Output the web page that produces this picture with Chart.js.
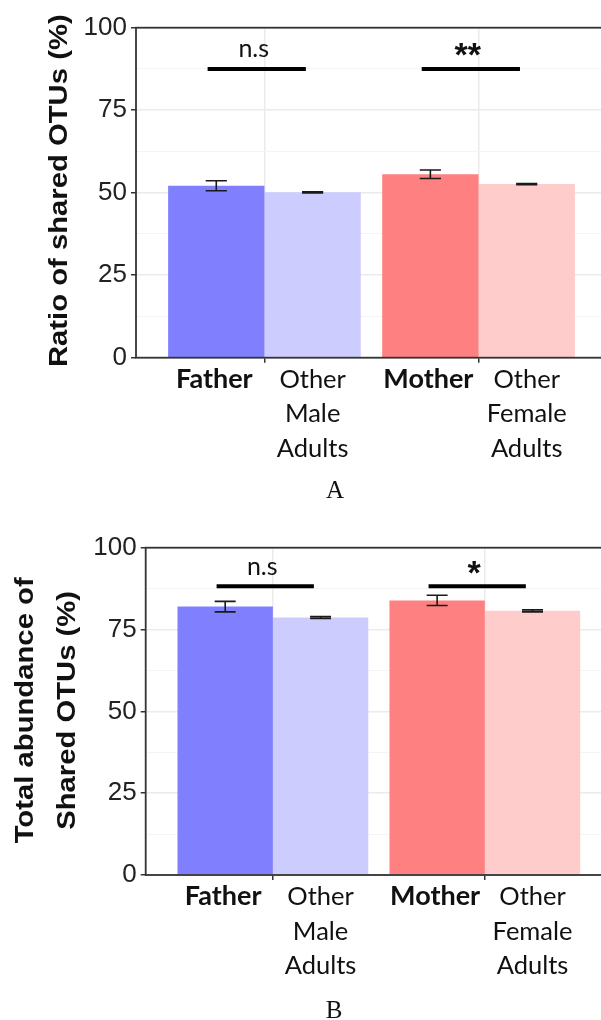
<!DOCTYPE html>
<html><head><meta charset="utf-8">
<script src="https://cdn.jsdelivr.net/npm/chart.js@4.4.0/dist/chart.umd.min.js"></script>
<style>
html,body{margin:0;padding:0;background:#fff;overflow:hidden;width:601px;height:1020px;position:relative;}
canvas{position:absolute;left:0;}
#cA{top:0;} #cB{top:510px;}
</style></head><body>
<canvas id="cA" width="607" height="510"></canvas>
<canvas id="cB" width="612" height="510"></canvas>
<script>
// ---- shared categories / labels ----
const groups = ['Father', 'Mother'];
const parentLabels = ['Father', 'Mother'];
const otherLabels = [['Other', 'Male', 'Adults'], ['Other', 'Female', 'Adults']];
const parentColors = ['#8080ff', '#ff8080'];
const otherColors = ['#ccccff', '#ffcccc'];
const yTickValues = [0, 25, 50, 75, 100];

// ---- Panel A: Ratio of shared OTUs (%) ----
const ratioParent = [52.1, 55.6];
const ratioParentErr = [1.5, 1.3];
const ratioOther = [50.1, 52.6];
const ratioOtherErr = [0.2, 0.15];
const ratioSigText = ['n.s', '**'];
const ratioSigLevel = [87.5, 87.5];

// ---- Panel B: Total abundance of shared OTUs (%) ----
const abundParent = [82.0, 83.9];
const abundParentErr = [1.6, 1.55];
const abundOther = [78.7, 80.7];
const abundOtherErr = [0.3, 0.3];
const abundSigText = ['n.s', '*'];
const abundSigLevel = [88.2, 88.2];

function annotPlugin(spec) {
  return {
    id: 'annot',
    afterDatasetsDraw(chart) {
      const ctx = chart.ctx, y = chart.scales.y, a = chart.chartArea;
      const m0 = chart.getDatasetMeta(0), m1 = chart.getDatasetMeta(1);
      ctx.save();
      // panel frame
      ctx.strokeStyle = '#333'; ctx.lineWidth = 1.8;
      ctx.strokeRect(a.left, a.top, a.right - a.left, a.bottom - a.top);
      // error bars
      [[m0, spec.parent, spec.parentErr], [m1, spec.other, spec.otherErr]].forEach(([meta, vals, errs]) => {
        meta.data.forEach((bar, i) => {
          const cx = bar.x, hw = bar.width * 0.11;
          const yHi = y.getPixelForValue(vals[i] + errs[i]);
          const yLo = y.getPixelForValue(vals[i] - errs[i]);
          ctx.strokeStyle = '#1a1a1a'; ctx.lineWidth = 1.6;
          ctx.beginPath();
          ctx.moveTo(cx - hw, yHi); ctx.lineTo(cx + hw, yHi);
          ctx.moveTo(cx, yHi); ctx.lineTo(cx, yLo);
          ctx.moveTo(cx - hw, yLo); ctx.lineTo(cx + hw, yLo);
          ctx.stroke();
        });
      });
      // significance brackets
      groups.forEach((g, i) => {
        const b0 = m0.data[i], b1 = m1.data[i];
        const x0 = b0.x - b0.width * 0.09, x1 = b1.x - b1.width * 0.07;
        const ly = y.getPixelForValue(spec.sigLevel[i]);
        ctx.strokeStyle = '#000'; ctx.lineWidth = 4;
        ctx.beginPath(); ctx.moveTo(x0, ly); ctx.lineTo(x1, ly); ctx.stroke();
        const t = spec.sigText[i];
        const cx = (x0 + x1) / 2 - 3;
        ctx.fillStyle = '#111'; ctx.textAlign = 'center';
        if (t.indexOf('*') >= 0) {
          ctx.font = 'bold 34px "Liberation Sans"';
          const m = ctx.measureText(t);
          const asc = m.actualBoundingBoxAscent, desc = m.actualBoundingBoxDescent;
          const c = ly - 19;
          ctx.textBaseline = 'alphabetic';
          ctx.fillText(t, cx, c + (asc - desc) / 2);
        } else {
          ctx.font = '25px Lato';
          ctx.textBaseline = 'alphabetic';
          ctx.fillText(t, cx, ly - 11.5);
        }
      });
      ctx.restore();
    },
    afterDraw(chart) {
      const ctx = chart.ctx, a = chart.chartArea;
      const m0 = chart.getDatasetMeta(0), m1 = chart.getDatasetMeta(1);
      ctx.save();
      // y-axis title (rotated)
      ctx.fillStyle = '#111';
      ctx.font = 'bold 25px "Liberation Sans"';
      ctx.textAlign = 'center'; ctx.textBaseline = 'alphabetic';
      const cy = (a.top + a.bottom) / 2 + spec.titleShift;
      spec.title.forEach((line, k) => {
        ctx.save();
        ctx.translate(spec.titleBase[k], cy);
        ctx.rotate(-Math.PI / 2);
        ctx.scale(1.17, 1);
        ctx.fillText(line, 0, 0);
        ctx.restore();
      });
      // category labels under each bar
      const offs = [30, 64.5, 99];
      ctx.fillStyle = '#111'; ctx.textAlign = 'center'; ctx.textBaseline = 'alphabetic';
      m0.data.forEach((bar, i) => {
        ctx.font = 'bold 27px Lato';
        ctx.fillText(parentLabels[i], bar.x - 2, a.bottom + offs[0]);
      });
      m1.data.forEach((bar, i) => {
        ctx.font = '25.5px Lato';
        otherLabels[i].forEach((line, k) => ctx.fillText(line, bar.x, a.bottom + offs[k]));
      });
      // panel letter
      ctx.font = '25px "Liberation Serif"';
      ctx.fillText(spec.letter, spec.letterX, spec.letterY);
      ctx.restore();
    }
  };
}

function makeChart(id, spec) {
  const cfg = {
    type: 'bar',
    data: {
      datasets: [
        { label: 'Parent', data: groups.map((g, i) => ({ x: i, y: spec.parent[i] })),
          backgroundColor: parentColors, categoryPercentage: 0.9, barPercentage: 1, borderWidth: 0 },
        { label: 'Other adults', data: groups.map((g, i) => ({ x: i, y: spec.other[i] })),
          backgroundColor: otherColors, categoryPercentage: 0.9, barPercentage: 1, borderWidth: 0 }
      ]
    },
    options: {
      responsive: false, animation: false, devicePixelRatio: 1,
      layout: { padding: { left: 0, right: 0, top: spec.padTop, bottom: spec.padBottom } },
      plugins: { legend: { display: false }, tooltip: { enabled: false } },
      scales: {
        x: {
          type: 'linear', min: -0.6, max: 1.6, offset: false,
          afterBuildTicks: (s) => { s.ticks = groups.map((g, i) => ({ value: i })); },
          afterFit: (s) => { s.height = 8; },
          border: { display: false },
          grid: { offset: false, color: '#ebebeb', lineWidth: 1.5, tickColor: '#333', tickLength: 5, tickWidth: 1.5 },
          ticks: { callback: () => '', autoSkip: false, padding: 0 }
        },
        y: {
          min: 0, max: 100,
          afterFit: (s) => { s.width = spec.axisLeft; },
          border: { display: false },
          grid: {
            color: (c) => (c.tick && c.tick.value % 25 === 0) ? '#ebebeb' : '#f4f4f4',
            lineWidth: (c) => (c.tick && c.tick.value % 25 === 0) ? 1.5 : 1,
            tickColor: (c) => (c.tick && c.tick.value % 25 === 0) ? '#333' : 'rgba(0,0,0,0)',
            tickLength: 5, tickWidth: 1.5
          },
          ticks: {
            stepSize: 12.5, autoSkip: false, padding: 4,
            callback: (v) => yTickValues.includes(v) ? String(v) : '',
            font: { family: 'Liberation Sans', size: 26 }, color: '#222'
          }
        }
      }
    },
    plugins: [annotPlugin(spec)]
  };
  return new Chart(document.getElementById(id), cfg);
}

makeChart('cA', {
  parent: ratioParent, parentErr: ratioParentErr, other: ratioOther, otherErr: ratioOtherErr,
  sigText: ratioSigText, sigLevel: ratioSigLevel,
  title: ['Ratio of shared OTUs (%)'], titleBase: [67], titleShift: -2,
  axisLeft: 136, padTop: 27.7, padBottom: 510 - 357.7 - 8,
  letter: 'A', letterX: 335, letterY: 498
});
makeChart('cB', {
  parent: abundParent, parentErr: abundParentErr, other: abundOther, otherErr: abundOtherErr,
  sigText: abundSigText, sigLevel: abundSigLevel,
  title: ['Total abundance of', 'Shared OTUs (%)'], titleBase: [33, 75], titleShift: -1,
  axisLeft: 145.7, padTop: 37.7, padBottom: 510 - 365 - 8,
  letter: 'B', letterX: 334, letterY: 508
});
</script>
</body></html>
